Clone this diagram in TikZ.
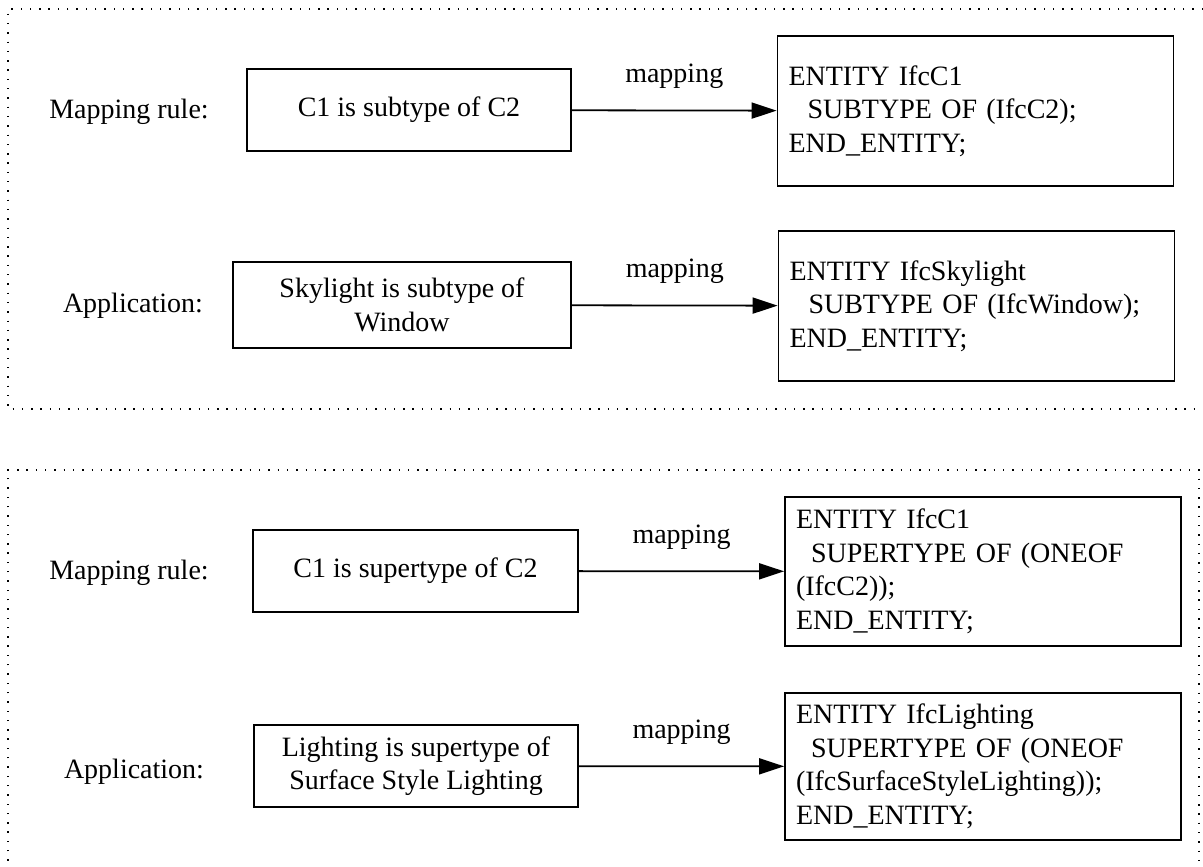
\documentclass[tikz,border=0pt]{standalone}
\usepackage{fontspec}
\setmainfont{Liberation Serif}
\usetikzlibrary{arrows.meta}
\begin{document}
\begin{tikzpicture}[x=1pt,y=-1pt,
  txt/.style={font=\fontsize{28}{33.5}\selectfont, inner sep=0pt},
  rulebox/.style={txt, draw, line width=1.8pt, align=center},
  codebox/.style={txt, draw, line width=1.8pt, align=left, inner xsep=11pt, text width=374pt},
  maparrow/.style={line width=1.8pt, -{Triangle[length=25pt,width=16pt]}},
  maplabel/.style={txt, yshift=34pt},
  panel/.style={line width=1.4pt, dash pattern=on 1.4pt off 7.9pt}]
\useasboundingbox (0,0) rectangle (1203,867);

% dotted group frames
\draw[panel] (1203,9) -- (8,9) -- (8,409) -- (1203,409);
\draw[panel] (8,870) -- (8,470) -- (1199,470) -- (1199,870);

% ---- subtype group ----
\node[txt] (t1) at (129,112) {Mapping rule:};
\node[rulebox, minimum width=324pt, minimum height=82pt] (l1) at (409,110) {C1 is subtype of C2};
\node[codebox, minimum height=150pt] (r1) at (975.5,111)
  {ENTITY IfcC1\\\hspace*{19pt}SUBTYPE OF (IfcC2);\\END\_ENTITY;};
\draw[maparrow] (l1) -- node[maplabel] (m1) {mapping} (r1);

\node[txt] (t2) at (133,306) {Application:};
\node[rulebox, minimum width=338pt, minimum height=86pt] (l2) at (402,305) {Skylight is subtype of\\Window};
\node[codebox, minimum height=150pt] (r2) at (976.5,306)
  {ENTITY IfcSkylight\\\hspace*{19pt}SUBTYPE OF (IfcWindow);\\END\_ENTITY;};
\draw[maparrow] (l2) -- node[maplabel] (m2) {mapping} (r2);

% ---- supertype group ----
\node[txt] (t3) at (129,573) {Mapping rule:};
\node[rulebox, minimum width=325pt, minimum height=82pt] (l3) at (415.5,571) {C1 is supertype of C2};
\node[codebox, minimum height=149pt] (r3) at (983,571.5)
  {ENTITY IfcC1\\\hspace*{15pt}SUPERTYPE OF (ONEOF\\(IfcC2));\\END\_ENTITY;};
\draw[maparrow] (l3) -- node[maplabel] (m3) {mapping} (r3);

\node[txt] (t4) at (134,772) {Application:};
\node[rulebox, minimum width=324pt, minimum height=82pt] (l4) at (416,766) {Lighting is supertype of\\Surface Style Lighting};
\node[codebox, minimum height=147pt] (r4) at (983,766.5)
  {ENTITY IfcLighting\\\hspace*{15pt}SUPERTYPE OF (ONEOF\\(IfcSurfaceStyleLighting));\\END\_ENTITY;};
\draw[maparrow] (l4) -- node[maplabel] (m4) {mapping} (r4);
\end{tikzpicture}
\end{document}
